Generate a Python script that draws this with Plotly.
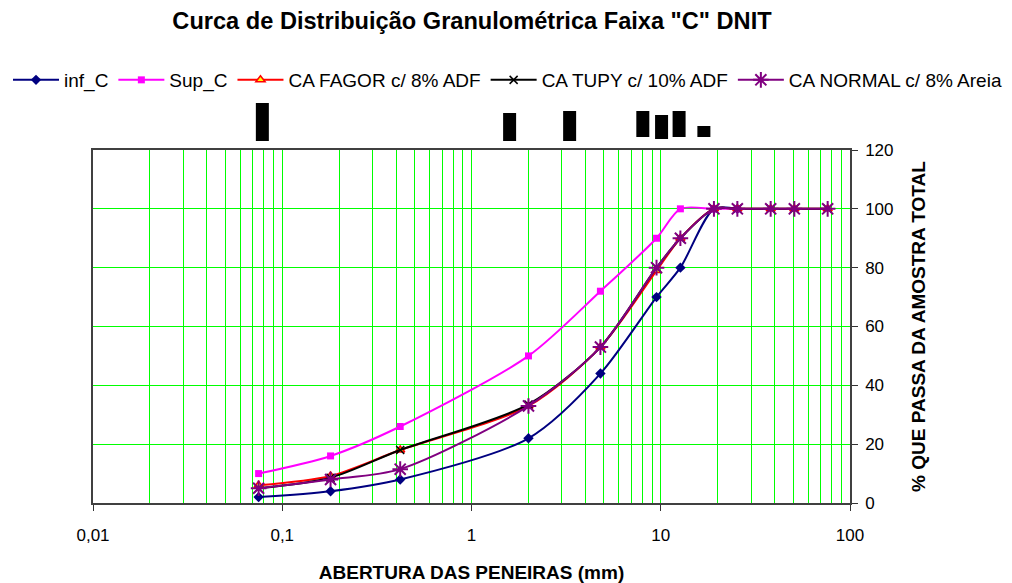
import plotly.graph_objects as go

# Sieve openings (mm)
sieves_faixa = [0.075, 0.18, 0.42, 2.0, 4.8, 9.5, 12.7, 19.1, 25.4]
sieves_all = [0.075, 0.18, 0.42, 2.0, 4.8, 9.5, 12.7, 19.1, 25.4, 38.1, 50.8, 76.2]

# DNIT band "C" limits (% passing)
inf_c = [2, 4, 8, 22, 44, 70, 80, 100, 100]
sup_c = [10, 16, 26, 50, 72, 90, 100, 100, 100]

# Asphalt concrete gradations (% passing)
ca_fagor = [6, 9.2, 18, 33, 53, 79, 90, 100, 100, 100, 100, 100]
ca_tupy = [5, 8.6, 18, 33.5, 53, 80, 90, 100, 100, 100, 100, 100]
ca_normal = [5, 8, 11.5, 33, 53, 80, 90, 100, 100, 100, 100, 100]

# Black sieve tags drawn above the plot: position (mm), lower and upper edge (px above plot)
tag_mm = [0.0785, 1.59, 3.3, 8.04, 10.1, 12.5, 16.9]
tag_low = [0, 0, 0, 4, 2, 4, 4]
tag_high = [38, 28, 30, 30, 26, 30, 15]

x_ticks = [0.01, 0.1, 1, 10, 100]
x_ticktext = ["0,01", "0,1", "1", "10", "100"]
minor_vals = [m * 10 ** e for e in range(-2, 2) for m in range(2, 10)]

FONT = "Liberation Sans, Arial, sans-serif"
GRID = "#00ff00"

W, H = 1012, 583
T, B = 100, 80
PLOT_H = H - T - B
X_LEFT, X_RIGHT = 93, 850          # horizontal extent of the chart area (px)
Y_TOP, Y_BOTTOM = 150, 503         # vertical extent of the chart area (px)
TAG_BASE = 141                     # baseline of the sieve tags (px)

fig = go.Figure()

fig.add_trace(go.Scatter(
    x=sieves_faixa, y=inf_c, name="inf_C", mode="lines+markers",
    line=dict(color="#000080", width=2, shape="spline", smoothing=0.8),
    marker=dict(symbol="diamond", size=8, color="#000080")))
fig.add_trace(go.Scatter(
    x=sieves_faixa, y=sup_c, name="Sup_C", mode="lines+markers",
    line=dict(color="#ff00ff", width=2, shape="spline", smoothing=0.8),
    marker=dict(symbol="square", size=7, color="#ff00ff")))
fig.add_trace(go.Scatter(
    x=sieves_all, y=ca_fagor, name="CA FAGOR c/ 8% ADF", mode="lines+markers",
    line=dict(color="#ff0000", width=2, shape="spline", smoothing=0.8),
    marker=dict(symbol="triangle-up", size=8, color="#ffff00",
                line=dict(color="#ff0000", width=1.5))))
fig.add_trace(go.Scatter(
    x=sieves_all, y=ca_tupy, name="CA TUPY c/ 10% ADF", mode="lines+markers",
    line=dict(color="#000000", width=2, shape="spline", smoothing=0.8),
    marker=dict(symbol="x-thin-open", size=8, color="#000000",
                line=dict(color="#000000", width=1.5))))
fig.add_trace(go.Scatter(
    x=sieves_all, y=ca_normal, name="CA NORMAL c/ 8% Areia", mode="lines+markers",
    line=dict(color="#800080", width=2, shape="spline", smoothing=0.8),
    marker=dict(symbol="asterisk-open", size=13, color="#800080",
                line=dict(color="#800080", width=2))))

# Tags as thick vertical strokes on an auxiliary axis pair above the plot
tx, ty = [], []
for m, lo, hi in zip(tag_mm, tag_low, tag_high):
    tx += [m, m, None]
    ty += [lo, hi, None]
fig.add_trace(go.Scatter(
    x=tx, y=ty, xaxis="x2", yaxis="y2", mode="lines", showlegend=False,
    hoverinfo="skip", line=dict(color="#000000", width=13)))

x_dom = [X_LEFT / W, X_RIGHT / W]
y_dom_main = [(H - B - Y_BOTTOM) / PLOT_H, (H - B - Y_TOP) / PLOT_H]
y_dom_tags = [(H - B - TAG_BASE) / PLOT_H, 1]

fig.update_layout(
    width=W, height=H,
    margin=dict(l=0, r=0, t=T, b=B, autoexpand=False),
    paper_bgcolor="white", plot_bgcolor="white",
    font=dict(family=FONT, size=17, color="#000000"),
    title=dict(text="<b>Curca de Distribuição Granulométrica Faixa \"C\" DNIT</b>",
               x=472 / W, xanchor="center", xref="container",
               y=1 - 21 / H, yanchor="middle", yref="container",
               font=dict(family=FONT, size=23.6)),
    legend=dict(orientation="h", xref="paper", yref="paper",
                x=8 / W, xanchor="left", y=1 + (T - 80) / PLOT_H, yanchor="middle",
                font=dict(family=FONT, size=19), itemwidth=46,
                bgcolor="rgba(0,0,0,0)"),
    xaxis=dict(type="log", range=[-2, 2], domain=x_dom, anchor="y",
               tickvals=x_ticks, ticktext=x_ticktext,
               ticks="outside", ticklen=6, tickcolor="#333333",
               ticklabelstandoff=10,
               showgrid=True, gridcolor=GRID, gridwidth=1,
               minor=dict(tickvals=minor_vals, showgrid=True, gridcolor=GRID,
                          gridwidth=1, ticks=""),
               showline=True, linecolor="#404040", linewidth=1.5, mirror=True,
               tickfont=dict(size=17), automargin=False,
               title=dict(text="<b>ABERTURA DAS PENEIRAS (mm)</b>",
                          font=dict(size=19), standoff=22),
               zeroline=False),
    yaxis=dict(range=[0, 120], dtick=20, side="right", domain=y_dom_main,
               anchor="x",
               ticks="outside", ticklen=6, tickcolor="#333333",
               ticklabelstandoff=4,
               showgrid=True, gridcolor=GRID, gridwidth=1,
               showline=True, linecolor="#404040", linewidth=1.5, mirror=True,
               tickfont=dict(size=17), automargin=False,
               title=dict(text="<b>% QUE PASSA DA AMOSTRA TOTAL</b>",
                          font=dict(size=19), standoff=19),
               zeroline=False),
    xaxis2=dict(type="log", range=[-2, 2], domain=x_dom, anchor="y2",
                visible=False, showgrid=False),
    yaxis2=dict(range=[0, TAG_BASE - T], domain=y_dom_tags, anchor="x2",
                visible=False, showgrid=False),
    showlegend=True,
)

fig.write_html("out.html")
